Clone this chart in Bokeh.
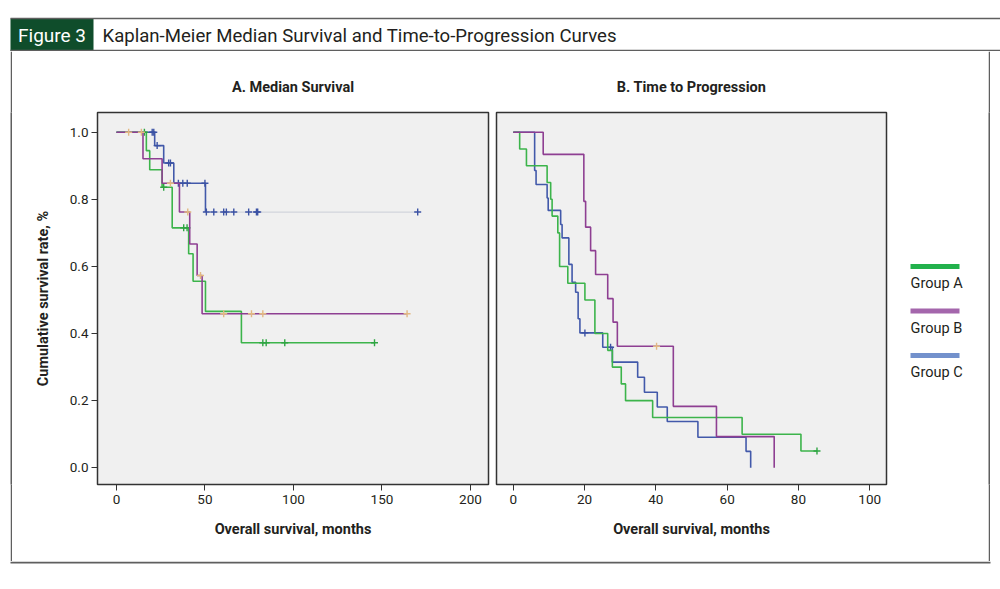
import numpy as np
from bokeh.plotting import figure
from bokeh.models import Range1d, FixedTicker, NumeralTickFormatter
from bokeh.layouts import column, row
from bokeh.embed import file_html
from bokeh.resources import INLINE
from bokeh.core.properties import value

FONT = "Roboto"
TXT = "#231f20"
BOX = "#5f5f5f"

groups = ["Group A", "Group B", "Group C"]
legend_colors = ["#22b14c", "#a466ac", "#7391cc"]
curve_colors = ["#3cb44b", "#8e3f92", "#4259aa"]
censor_colors = ["#2fa543", "#e2b882", "#3b52a4"]
tail_color = "#d2d5dc"

# ---- Panel A: Median survival (overall survival, months) ----
os_a_times = [0, 16.9, 18.8, 25.8, 31.5, 40.8, 43.3, 50.3, 70.6]
os_a_surv = [1.0, 0.945, 0.888, 0.836, 0.715, 0.638, 0.556, 0.466, 0.3725]
os_a_end = 145.8
os_a_cens = [15.8, 26.7, 38.0, 39.9, 82.7, 84.6, 95.1, 145.8]

os_b_times = [0, 15.0, 25.8, 35.6, 41.4, 45.6, 48.4]
os_b_surv = [1.0, 0.921, 0.848, 0.762, 0.667, 0.573, 0.459]
os_b_end = 164.2
os_b_cens = [6.9, 14.1, 30.5, 40.3, 47.5, 60.6, 76.3, 82.7, 164.2]

os_c_times = [0, 21.6, 26.7, 32.4, 50.3]
os_c_surv = [1.0, 0.960, 0.908, 0.848, 0.762]
os_c_end = 170.2
os_c_cens = [20.2, 21.1, 23.0, 29.5, 30.5, 35.0, 37.5, 40.0, 50.0, 50.8,
             55.0, 60.6, 62.1, 66.3, 74.7, 79.1, 79.8, 170.2]

# ---- Panel B: Time to progression (months) ----
ttp_a_times = [0, 1.8, 3.7, 9.5, 10.5, 10.9, 12.5, 13.0, 15.3, 20.1, 22.9,
               26.5, 27.8, 30.3, 31.5, 39.1, 64.2, 80.7]
ttp_a_surv = [1.0, 0.95, 0.90, 0.85, 0.80, 0.75, 0.70, 0.60, 0.55, 0.50, 0.40,
              0.35, 0.30, 0.25, 0.20, 0.15, 0.10, 0.05]
ttp_a_end = 85.2
ttp_a_cens = [85.2]

ttp_b_times = [0, 8.4, 19.8, 20.3, 21.7, 23.1, 26.5, 28.0, 29.2, 44.9, 57.0, 73.2]
ttp_b_surv = [1.0, 0.934, 0.794, 0.717, 0.647, 0.576, 0.504, 0.434, 0.362,
              0.183, 0.093, 0.0]
ttp_b_end = 73.2
ttp_b_cens = [40.2]

ttp_c_times = [0, 6.0, 6.4, 9.5, 9.8, 13.3, 13.7, 15.6, 16.5, 17.5, 18.2, 18.7,
               25.1, 27.8, 34.9, 36.8, 40.4, 43.2, 51.8, 65.3, 66.6]
ttp_c_surv = [1.0, 0.886, 0.844, 0.804, 0.767, 0.725, 0.685, 0.606, 0.553,
              0.523, 0.444, 0.402, 0.359, 0.315, 0.270, 0.225, 0.181, 0.138,
              0.091, 0.049, 0.0]
ttp_c_end = 66.6
ttp_c_cens = [20.1, 27.3]

x_ticks_a = [0, 50, 100, 150, 200]
x_ticks_b = [0, 20, 40, 60, 80, 100]
y_ticks = [0.0, 0.2, 0.4, 0.6, 0.8, 1.0]

title_text = "Kaplan-Meier Median Survival and Time-to-Progression Curves"
fig_label = "Figure 3"


def surv_at(times, surv, t):
    idx = np.searchsorted(np.array(times), np.array(t), side="right") - 1
    return list(np.array(surv)[idx])


def blank(w, h, color="white", **kw):
    s = figure(width=w, height=h, output_backend="svg", toolbar_location=None,
               min_border=0, **kw)
    s.axis.visible = False
    s.grid.visible = False
    s.outline_line_color = None
    s.background_fill_color = color
    s.border_fill_color = color
    return s


def style_axis(ax, label):
    ax.major_tick_out = 6
    ax.major_tick_in = 0
    ax.minor_tick_out = 0
    ax.minor_tick_in = 0
    ax.axis_line_color = None
    ax.major_tick_line_color = "#333333"
    ax.major_tick_line_width = 1
    ax.major_label_text_font = FONT
    ax.major_label_text_font_size = "13.5px"
    ax.major_label_text_color = TXT
    ax.axis_label = label
    ax.axis_label_text_font = FONT
    ax.axis_label_text_font_size = "14.5px"
    ax.axis_label_text_font_style = "bold"
    ax.axis_label_text_color = TXT


def make_panel(title, xr, frame_w, mb_left, mb_right, xticks, show_y):
    p = figure(frame_width=frame_w, frame_height=372,
               x_range=Range1d(*xr), y_range=Range1d(-0.0498, 1.0587),
               output_backend="svg", toolbar_location=None,
               min_border_left=mb_left, min_border_right=mb_right,
               min_border_top=61, min_border_bottom=77)
    p.background_fill_color = "#f0f0f0"
    p.border_fill_color = "white"
    p.outline_line_color = "#333333"
    p.outline_line_width = 1.5
    p.grid.visible = False
    p.title.text = title
    p.title.align = "center"
    p.title.text_font = FONT
    p.title.text_font_size = "14.5px"
    p.title.text_font_style = "bold"
    p.title.text_color = TXT
    p.title.standoff = 33
    p.xaxis.ticker = FixedTicker(ticks=xticks)
    style_axis(p.xaxis[0], "Overall survival, months")
    p.xaxis.major_label_standoff = 4
    p.xaxis.axis_label_standoff = 14
    if show_y:
        p.yaxis.ticker = FixedTicker(ticks=y_ticks)
        p.yaxis.formatter = NumeralTickFormatter(format="0.0")
        style_axis(p.yaxis[0], "Cumulative survival rate, %")
        p.yaxis.major_label_standoff = 3
        p.yaxis.axis_label_standoff = 15
    else:
        p.yaxis.visible = False
    return p


def draw_curve(p, times, surv, end, cens, i, light_tail=False):
    if light_tail:
        p.line([times[-1], end], [surv[-1], surv[-1]], line_color=tail_color, line_width=1.2)
        p.step(times, surv, mode="after", line_color=curve_colors[i], line_width=1.6)
    else:
        p.step(times + [end], surv + [surv[-1]], mode="after",
               line_color=curve_colors[i], line_width=1.6)
    p.scatter(cens, surv_at(times, surv, cens), marker="cross", size=7,
              line_color=censor_colors[i], line_width=1.4)


# ---- header (page coordinates) ----
hdr = blank(1000, 51, x_range=Range1d(0, 1000), y_range=Range1d(51, 0))
hdr.quad(left=[10], right=[93], top=[18], bottom=[50.5], fill_color="#0f4d2b", line_color=None)
hdr.line([10, 1000], [18, 18], line_color=BOX, line_width=1.5)
hdr.line([10, 1000], [50, 50], line_color=BOX, line_width=1.5)
hdr.text(x=[51.5], y=[35], text=[fig_label], text_font=value(FONT), text_font_size="19px",
         text_color="white", text_align="center", text_baseline="middle")
hdr.text(x=[102], y=[35], text=[title_text], text_font=value(FONT), text_font_size="18.6px",
         text_color=TXT, text_align="left", text_baseline="middle")

# ---- panels ----
pA = make_panel("A. Median Survival", (-10.7, 210.2), 391, 85, 4, x_ticks_a, True)
pB = make_panel("B. Time to Progression", (-4.7, 104.7), 390, 4, 2, x_ticks_b, False)

draw_curve(pA, os_c_times, os_c_surv, os_c_end, os_c_cens, 2, light_tail=True)
draw_curve(pA, os_a_times, os_a_surv, os_a_end, os_a_cens, 0)
draw_curve(pA, os_b_times, os_b_surv, os_b_end, os_b_cens, 1)

draw_curve(pB, ttp_c_times, ttp_c_surv, ttp_c_end, ttp_c_cens, 2)
draw_curve(pB, ttp_a_times, ttp_a_surv, ttp_a_end, ttp_a_cens, 0)
draw_curve(pB, ttp_b_times, ttp_b_surv, ttp_b_end, ttp_b_cens, 1)

# ---- legend (frame aligned with panels: page coordinates) ----
leg = blank(100, 510, x_range=Range1d(888, 988), y_range=Range1d(484, 112))
idx = np.arange(len(groups))
ly = 266 + idx * 44.5
leg.segment(x0=[910] * len(groups), y0=ly, x1=[959] * len(groups), y1=ly,
            line_color=legend_colors, line_width=5)
leg.text(x=[910] * len(groups), y=ly + 17, text=groups, text_font=value(FONT),
         text_font_size="14.5px", text_color=TXT, text_align="left", text_baseline="middle")

left_pad = blank(10, 510)
left_strip = blank(2, 510, BOX)
right_strip = blank(2, 510, BOX)

# ---- bottom edge of the outer box (page coordinates) ----
bottom = blank(1000, 12, x_range=Range1d(0, 1000), y_range=Range1d(573, 561))
bottom.quad(left=[10], right=[990], top=[561], bottom=[563], fill_color=BOX, line_color=None)

layout = column(hdr, row(left_pad, left_strip, pA, pB, leg, right_strip), bottom)
open("out.html", "w").write(file_html(layout, INLINE))
